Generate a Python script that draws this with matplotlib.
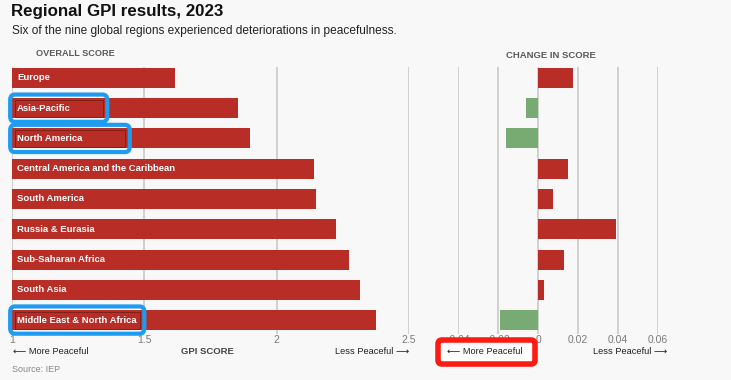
import matplotlib
matplotlib.use('Agg')
import matplotlib.pyplot as plt
from matplotlib.patches import FancyBboxPatch, Rectangle
from matplotlib.transforms import IdentityTransform

plt.rcParams['font.family'] = ['Liberation Sans', 'DejaVu Sans']

# Data
regions = ['Europe', 'Asia-Pacific', 'North America', 'Central America and the Caribbean',
           'South America', 'Russia & Eurasia', 'Sub-Saharan Africa', 'South Asia',
           'Middle East & North Africa']
scores = [1.615, 1.853, 1.898, 2.140, 2.147, 2.226, 2.275, 2.313, 2.377]
changes = [0.0175, -0.006, -0.016, 0.015, 0.0075, 0.039, 0.013, 0.003, -0.019]
score_ticks = [1, 1.5, 2, 2.5]
score_tick_labels = ['1', '1.5', '2', '2.5']
change_ticks = [-0.04, -0.02, 0, 0.02, 0.04, 0.06]
change_tick_labels = ['-0.04', '-0.02', '0', '0.02', '0.04', '0.06']
highlighted = ['Asia-Pacific', 'North America', 'Middle East & North Africa']
highlight_right = [1.36, 1.445, 1.50]

RED = '#b82d25'
GREEN = '#77ab71'
GRID = '#c6c6c6'
BG = '#f8f8f8'
BLUE = '#1e9cf2'

W, H = 731, 380
fig = plt.figure(figsize=(W / 100, H / 100), dpi=100, facecolor=BG)

def fx(px):
    return px / W

def fy(py):
    return 1 - py / H

ax1 = fig.add_axes([fx(12), fy(334), fx(409) - fx(12), fy(67) - fy(334)])
ax2 = fig.add_axes([fx(458), fy(334), fx(658) - fx(458), fy(67) - fy(334)])

ypos = list(range(len(regions)))
for ax in (ax1, ax2):
    ax.set_facecolor('none')
    for s in ax.spines.values():
        s.set_visible(False)
    ax.set_ylim(8.46, -0.36)
    ax.set_yticks([])
    ax.tick_params(axis='x', length=0, pad=1, labelsize=7.5, labelcolor='#7a7a7a')

# Left panel: overall score
ax1.set_xlim(1, 2.5)
for t in score_ticks:
    ax1.axvline(t, color=GRID, lw=1.1, zorder=0)
ax1.barh(ypos, [s - 1 for s in scores], left=1, height=0.66, color=RED, zorder=2)
ax1.set_xticks(score_ticks)
ax1.set_xticklabels(score_tick_labels)
for y, name in zip(ypos, regions):
    ax1.text(1.019, y, name, color='white', fontsize=6.8, fontweight='bold',
             va='center', ha='left', zorder=4)

# highlight boxes round some region labels
for name, right in zip(highlighted, highlight_right):
    y = regions.index(name)
    box = FancyBboxPatch((0.993, y - 0.45), right - 0.993, 0.9,
                         boxstyle='round,pad=0,rounding_size=0.018',
                         mutation_aspect=10, facecolor='none', edgecolor=BLUE,
                         lw=3.0, zorder=5, clip_on=False)
    ax1.add_patch(box)
    ax1.add_patch(Rectangle((1.012, y - 0.28), right - 1.03, 0.56, facecolor='none',
                            edgecolor='#7a1e17', lw=0.6, zorder=3))

# Right panel: change in score
ax2.set_xlim(-0.04, 0.06)
for t in change_ticks:
    ax2.axvline(t, color=GRID, lw=1.1, zorder=0)
ax2.barh(ypos, changes, height=0.66, color=[RED if c > 0 else GREEN for c in changes],
         zorder=2)
ax2.set_xticks(change_ticks)
ax2.set_xticklabels(change_tick_labels)

# Titles and notes
fig.text(fx(11), fy(4), 'Regional GPI results, 2023', fontsize=12.2, fontweight='bold',
         va='top', ha='left', color='#111111')
fig.text(fx(12), fy(31), 'Six of the nine global regions experienced deteriorations in peacefulness.',
         fontsize=8.55, va='center', ha='left', color='#222222')
fig.text(fx(36), fy(54), 'OVERALL SCORE', fontsize=6.6, fontweight='bold', va='center',
         ha='left', color='#5a5a5a')
fig.text(fx(551), fy(55), 'CHANGE IN SCORE', fontsize=6.8, fontweight='bold', va='center',
         ha='center', color='#5a5a5a')

fig.text(fx(13), fy(352), '⟵ More Peaceful', fontsize=6.7, va='center', ha='left', color='#222222')
fig.text(fx(207), fy(352), 'GPI SCORE', fontsize=6.8, fontweight='bold', va='center',
         ha='center', color='#444444')
fig.text(fx(409), fy(351), 'Less Peaceful ⟶', fontsize=6.7, va='center', ha='right', color='#222222')
fig.text(fx(447), fy(352), '⟵ More Peaceful', fontsize=6.7, va='center', ha='left',
         color='#222222', zorder=6)
fig.text(fx(667), fy(351), 'Less Peaceful ⟶', fontsize=6.7, va='center', ha='right', color='#222222')
fig.text(fx(12), fy(370), 'Source: IEP', fontsize=6.5, va='center', ha='left', color='#888888')

# red highlight box around the lower "More Peaceful" note
red_box = FancyBboxPatch((438, H - 364), 97, 24, boxstyle='round,pad=0,rounding_size=4',
                         facecolor='white', edgecolor='#ff1a12', lw=4.0,
                         transform=IdentityTransform(), zorder=5)
fig.add_artist(red_box)

fig.savefig('out.png', dpi=100, facecolor=BG)
